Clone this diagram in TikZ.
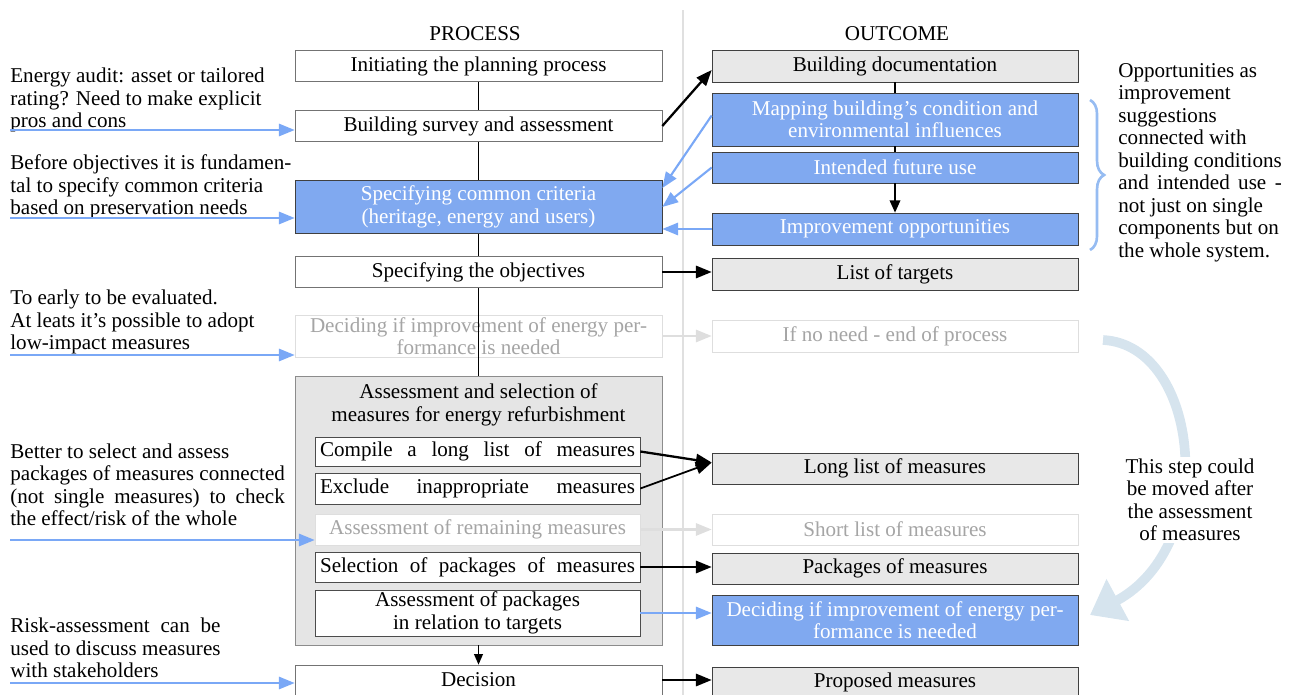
\documentclass[tikz,border=0pt]{standalone}
\usepackage{fontspec}
\setmainfont{Liberation Serif}
\usepackage{calc}
\usetikzlibrary{arrows.meta,decorations.pathreplacing}

\definecolor{boxblue}{RGB}{128,169,240}
\definecolor{arrowblue}{RGB}{122,168,246}
\definecolor{braceblue}{RGB}{150,188,242}
\definecolor{boxgray}{RGB}{232,232,232}
\definecolor{groupgray}{RGB}{229,229,229}
\definecolor{fadetext}{RGB}{165,165,165}
\definecolor{fadeline}{RGB}{222,222,222}
\definecolor{curveblue}{RGB}{214,228,238}

\tikzset{
    txt/.style={font=\fontsize{12}{12.8}\selectfont},
    procbox/.style={txt, draw=black!55, fill=white, minimum width=7.34cm,
        minimum height=0.62cm, inner sep=1pt, align=center},
    outbox/.style={procbox, fill=boxgray, draw=black!75},
    bluebox/.style={procbox, fill=boxblue, draw=black!75, text=white},
    fadebox/.style={procbox, draw=fadeline, text=fadetext},
    stepbox/.style={procbox, minimum width=6.5cm, draw=black!70},
    groupbox/.style={draw=black!45, fill=groupgray, minimum width=7.34cm,
        minimum height=5.38cm},
    note/.style={txt, align=left, inner sep=0pt},
    link/.style={-{Triangle[length=9pt,width=7pt]}, line width=1.3pt},
    bluelink/.style={-{Triangle[length=9pt,width=7pt]}, line width=1.2pt, draw=arrowblue},
    fadelink/.style={-{Triangle[length=9pt,width=7pt]}, line width=1.2pt, draw=fadeline},
}

\begin{document}
\begin{tikzpicture}[x=0.02cm,y=-0.02cm]
    \useasboundingbox (0,0) rectangle (1293,695);

    % Divider
    \draw[black!12, line width=1pt] (683,10) -- (683,695);

    % Headers
    \node[txt] (proc) at (475,34) {PROCESS};
    \node[txt] (outc) at (897,34) {OUTCOME};

    % Process column
    \node[procbox] (init) at (478.5,66) {Initiating the planning process};
    \node[procbox] (survey) at (478.5,126) {Building survey and assessment};
    \node[bluebox, minimum height=1.06cm] (criteria) at (478.5,207) {Specifying common criteria\\(heritage, energy and users)};
    \node[procbox] (objectives) at (478.5,272) {Specifying the objectives};
    \node[fadebox, minimum height=0.84cm] (decidefade) at (478.5,336) {Deciding if improvement of energy per-\\formance is needed};

    \node[groupbox] (group) at (478.5,510.5) {};
    \node[txt, align=center] (grouptitle) at (478.5,405) {Assessment and selection of\\measures for energy refurbishment};
    \node[stepbox, minimum height=0.58cm] (compile) at (477.5,451.5) {\makebox[6.3cm][s]{Compile a long list of measures}};
    \node[stepbox] (exclude) at (477.5,488.5) {\makebox[6.3cm][s]{Exclude inappropriate measures}};
    \node[fadebox, minimum width=6.5cm] (remaining) at (477.5,529.5) {Assessment of remaining measures};
    \node[stepbox, minimum height=0.6cm] (selection) at (477.5,567) {\makebox[6.3cm][s]{Selection of packages of measures}};
    \node[stepbox, minimum height=0.92cm] (pkgassess) at (477.5,613) {Assessment of packages\\in relation to targets};

    \node[procbox, minimum height=0.6cm] (decision) at (478.5,680) {Decision};

    % Outcome column
    \node[outbox, minimum width=7.32cm, minimum height=0.64cm] (doc) at (895,66) {Building documentation};
    \node[bluebox, minimum width=7.32cm, minimum height=1.06cm] (mapping) at (895,119.5) {Mapping building's condition and\\environmental influences};
    \node[bluebox, minimum width=7.32cm] (futureuse) at (895,167.5) {Intended future use};
    \node[bluebox, minimum width=7.32cm, minimum height=0.64cm] (opport) at (895,229) {Improvement opportunities};
    \node[outbox, minimum width=7.32cm, minimum height=0.64cm] (targets) at (895,274) {List of targets};
    \node[fadebox, minimum width=7.32cm, minimum height=0.64cm] (noneed) at (895,336) {If no need - end of process};
    \node[outbox, minimum width=7.32cm] (longlist) at (895,468.5) {Long list of measures};
    \node[fadebox, minimum width=7.32cm] (shortlist) at (895,529.5) {Short list of measures};
    \node[outbox, minimum width=7.32cm] (packages) at (895,568.5) {Packages of measures};
    \node[bluebox, minimum width=7.32cm, minimum height=1.0cm] (decideblue) at (895,620) {Deciding if improvement of energy per-\\formance is needed};
    \node[outbox, minimum width=7.32cm, minimum height=0.6cm] (proposed) at (895,682) {Proposed measures};

    % Process flow
    \draw[line width=1pt] (init) -- (survey);
    \draw[line width=1pt] (survey) -- (criteria);
    \draw[line width=1pt] (criteria) -- (objectives);
    \draw[line width=1pt] (objectives.south) -- (group.north);
    \draw[-{Triangle[length=6pt,width=5pt]}, line width=0.8pt] (group.south) -- (decision.north);

    % Outcome flow
    \draw[line width=1pt] (doc) -- (mapping);
    \draw[line width=1pt] (mapping) -- (futureuse);
    \draw[-{Triangle[length=7pt,width=6pt]}, line width=1pt] (futureuse) -- (opport);

    % Links between columns
    \draw[link] (survey.east) -- ([yshift=-0.08cm]doc.west);
    \draw[bluelink] ([yshift=0.08cm]mapping.west) -- ([yshift=0.38cm]criteria.east);
    \draw[bluelink] (futureuse.west) -- (criteria.east);
    \draw[bluelink] (opport.west) -- (opport.west -| criteria.east);
    \draw[link] (objectives.east) -- (objectives.east -| targets.west);
    \draw[fadelink] (decidefade.east) -- (noneed.west);
    \draw[link] (compile.east) -- ([yshift=0.12cm]longlist.west);
    \draw[link, line width=1pt] (exclude.east) -- ([yshift=0.12cm]longlist.west);
    \draw[fadelink] (remaining.east) -- (shortlist.west);
    \draw[link] (selection.east) -- (selection.east -| packages.west);
    \draw[bluelink] (pkgassess.east) -- (pkgassess.east -| decideblue.west);
    \draw[link] (decision.east) -- (decision.east -| proposed.west);

    % Left notes
    \coordinate (n1) at (10,130);
    \coordinate (n2) at (10,218);
    \coordinate (n3) at (10,355);
    \coordinate (n4) at (10,540);
    \coordinate (n5) at (10,683);
    \node[note, anchor=south west, yshift=-0.1cm] (audit) at (n1) {Energy audit: asset or tailored\\rating? Need to make explicit\\pros and cons\strut};
    \node[note, anchor=south west, yshift=-0.08cm] (before) at (n2) {Before objectives it is fundamen-\\tal to specify common criteria\\based on preservation needs\strut};
    \node[note, anchor=south west, yshift=-0.04cm] (early) at (n3) {To early to be evaluated.\\At leats it's possible to adopt\\low-impact measures\strut};
    \node[note, anchor=south west, yshift=0.14cm] (better) at (n4) {Better to select and assess\\packages of measures connected\\\makebox[\widthof{packages of measures connected}][s]{(not single measures) to check}\\the effect/risk of the whole\strut};
    \node[note, anchor=south west, yshift=-0.04cm] (risk) at (n5) {\makebox[\widthof{used to discuss measures}][s]{Risk-assessment can be}\\used to discuss measures\\with stakeholders\strut};
    \draw[bluelink] (n1) -- (n1 -| survey.west);
    \draw[bluelink] (n2) -- (n2 -| criteria.west);
    \draw[bluelink] (n3) -- (n3 -| decidefade.west);
    \draw[bluelink] (n4) -- (n4 -| remaining.west);
    \draw[bluelink] (n5) -- (n5 -| decision.west);

    % Right notes
    \draw[decorate, decoration={brace, amplitude=8pt}, braceblue, line width=1.5pt] (1090,100) -- (1090,250);
    \node[note, anchor=north west] (opnote) at (1118,63) {Opportunities as\\improvement\\suggestions\\connected with\\building conditions\\\makebox[\widthof{building conditions}][s]{and intended use -}\\not just on single\\components but on\\the whole system.};

    \draw[curveblue, line width=5.5pt, -{Triangle[length=18pt,width=26pt]}] (1103,340) .. controls (1200,345) and (1220,545) .. (1090,615);
    \node[txt, align=center, fill=white, inner sep=1pt] (stepnote) at (1190,500) {This step could\\be moved after\\the assessment\\of measures};
\end{tikzpicture}
\end{document}
